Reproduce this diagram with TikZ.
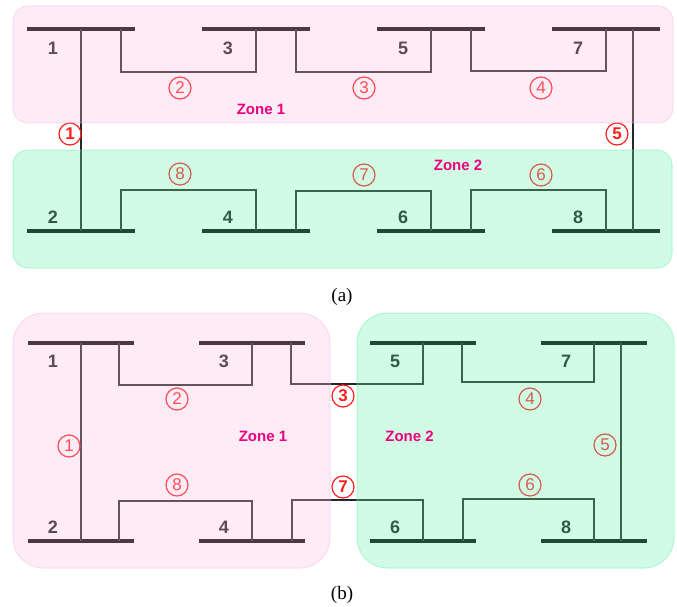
\documentclass[tikz,border=0pt]{standalone}
\usepackage{fontspec}
\setmainfont{Liberation Serif}
\setsansfont{Liberation Sans}
\usetikzlibrary{positioning}
\definecolor{zonepink}{RGB}{248,188,222}
\definecolor{zonegreen}{RGB}{105,242,172}
\definecolor{tagred}{RGB}{255,30,30}
\definecolor{zonetext}{RGB}{236,0,128}

\begin{document}
\begin{tikzpicture}[
        x=1pt, y=-1pt,
        on grid,
        bus/.style={rectangle, fill=black, inner sep=0pt, minimum width=108pt, minimum height=4.8pt},
        busb/.style={bus, minimum width=106pt},
        busnum/.style={inner sep=0pt, text=black!90, font=\sffamily\bfseries\fontsize{18}{18}\selectfont},
        line/.style={draw=black!85, line width=1.2pt},
        tag/.style={circle, draw=tagred, line width=1.2pt, text=tagred, minimum size=22pt, inner sep=0pt, font=\sffamily\fontsize{17}{17}\selectfont},
        crosstag/.style={tag, font=\sffamily\bfseries\fontsize{17}{17}\selectfont},
        zone/.style={fill opacity=0.3, draw opacity=0.45, line width=1pt},
        zonelabel/.style={text=zonetext, font=\sffamily\bfseries\fontsize{15}{15}\selectfont},
        caption/.style={font=\fontsize{19}{19}\selectfont}
    ]
        \useasboundingbox (0,0) rectangle (677,607);
        % (a)
        \node[bus] (a1) at (81,29) {};
        \node[bus, right=175pt of a1] (a3) {};
        \node[bus, right=175pt of a3] (a5) {};
        \node[bus, right=175pt of a5] (a7) {};
        \node[bus, below=202pt of a1] (a2) {};
        \node[bus, right=175pt of a2] (a4) {};
        \node[bus, right=175pt of a4] (a6) {};
        \node[bus, right=175pt of a6] (a8) {};
        \node[busnum, below left=19pt and 28pt of a1] (na1) {1};
        \node[busnum, below left=19pt and 28pt of a3] (na3) {3};
        \node[busnum, below left=19pt and 28pt of a5] (na5) {5};
        \node[busnum, below left=19pt and 28pt of a7] (na7) {7};
        \node[busnum, above left=14pt and 28pt of a2] (na2) {2};
        \node[busnum, above left=14pt and 28pt of a4] (na4) {4};
        \node[busnum, above left=14pt and 28pt of a6] (na6) {6};
        \node[busnum, above left=14pt and 28pt of a8] (na8) {8};
        \draw[line] (a1.center) -- (a2.center);
        \draw[line] ([xshift=40pt]a1.center) -- ++(0,43) -| (a3.center);
        \draw[line] ([xshift=40pt]a3.center) -- ++(0,43) -| (a5.center);
        \draw[line] ([xshift=40pt]a5.center) -- ++(0,42) -| (a7.center);
        \draw[line] ([xshift=27pt]a7.center) -- ([xshift=27pt]a8.center);
        \draw[line] ([xshift=40pt]a2.center) -- ++(0,-41) -| (a4.center);
        \draw[line] ([xshift=40pt]a4.center) -- ++(0,-40) -| (a6.center);
        \draw[line] ([xshift=40pt]a6.center) -- ++(0,-41) -| (a8.center);
        \node[crosstag] (ta1) at (70,134) {1};
        \node[tag] (ta2) at (180,88) {2};
        \node[tag] (ta3) at (364,88) {3};
        \node[tag] (ta4) at (541,88) {4};
        \node[crosstag] (ta5) at (617,134) {5};
        \node[tag] (ta6) at (541,175) {6};
        \node[tag] (ta7) at (364,175) {7};
        \node[tag] (ta8) at (180,174) {8};
        \draw[zone, fill=zonepink, draw=zonepink, rounded corners=15pt] (13,6) rectangle (673,123);
        \draw[zone, fill=zonegreen, draw=zonegreen, rounded corners=15pt] (13,150) rectangle (672,268);
        \node[zonelabel] (za1) at (261,109) {Zone 1};
        \node[zonelabel] (za2) at (458,165) {Zone 2};
        \node[caption] (capa) at (342,297) {(a)};
        % (b)
        \node[busb] (b1) at (81,343) {};
        \node[busb, right=171pt of b1] (b3) {};
        \node[busb, right=171pt of b3] (b5) {};
        \node[busb, right=171pt of b5] (b7) {};
        \node[busb, below=198pt of b1] (b2) {};
        \node[busb, right=171pt of b2] (b4) {};
        \node[busb, right=171pt of b4] (b6) {};
        \node[busb, right=171pt of b6] (b8) {};
        \node[busnum, below left=18pt and 28pt of b1] (nb1) {1};
        \node[busnum, below left=18pt and 28pt of b3] (nb3) {3};
        \node[busnum, below left=18pt and 28pt of b5] (nb5) {5};
        \node[busnum, below left=18pt and 28pt of b7] (nb7) {7};
        \node[busnum, above left=14pt and 28pt of b2] (nb2) {2};
        \node[busnum, above left=14pt and 28pt of b4] (nb4) {4};
        \node[busnum, above left=14pt and 28pt of b6] (nb6) {6};
        \node[busnum, above left=14pt and 28pt of b8] (nb8) {8};
        \draw[line] (b1.center) -- (b2.center);
        \draw[line] ([xshift=38pt]b1.center) -- ++(0,42) -| (b3.center);
        \draw[line] ([xshift=39pt]b3.center) -- ++(0,41) -| (b5.center);
        \draw[line] ([xshift=39pt]b5.center) -- ++(0,39) -| (b7.center);
        \draw[line] ([xshift=27pt]b7.center) -- ([xshift=27pt]b8.center);
        \draw[line] ([xshift=38pt]b2.center) -- ++(0,-40) -| (b4.center);
        \draw[line] ([xshift=40pt]b4.center) -- ++(0,-41) -| (b6.center);
        \draw[line] ([xshift=40pt]b6.center) -- ++(0,-42) -| (b8.center);
        \node[tag] (tb1) at (69,446) {1};
        \node[tag] (tb2) at (177,399) {2};
        \node[crosstag] (tb3) at (343,396) {3};
        \node[tag] (tb4) at (530,399) {4};
        \node[tag] (tb5) at (605,445) {5};
        \node[tag] (tb6) at (530,485) {6};
        \node[crosstag] (tb7) at (343,487) {7};
        \node[tag] (tb8) at (177,485) {8};
        \draw[zone, fill=zonepink, draw=zonepink, rounded corners=30pt] (13,313) rectangle (330,568);
        \draw[zone, fill=zonegreen, draw=zonegreen, rounded corners=30pt] (357,313) rectangle (674,568);
        \node[zonelabel] (zb1) at (263,436.5) {Zone 1};
        \node[zonelabel] (zb2) at (409.5,436.5) {Zone 2};
        \node[caption] (capb) at (342,594.5) {(b)};
\end{tikzpicture}
\end{document}
